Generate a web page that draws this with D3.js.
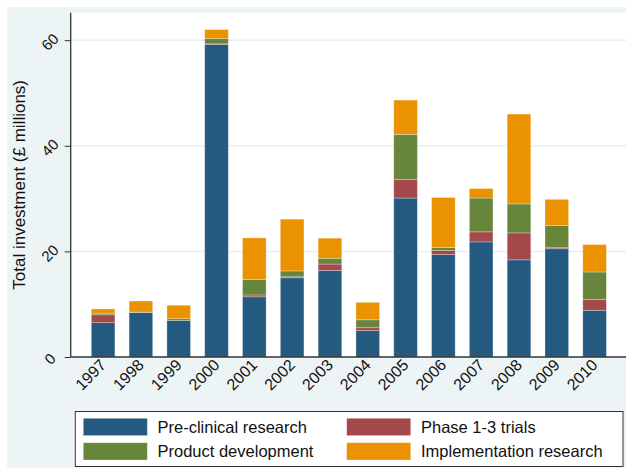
<!DOCTYPE html>
<html>
<head>
<meta charset="utf-8">
<script src="https://cdn.jsdelivr.net/npm/d3@7/dist/d3.min.js"></script>
<style>
  html, body { margin: 0; padding: 0; background: #fff; }
  svg { display: block; font-family: "Liberation Sans", Arial, Helvetica, sans-serif; }
</style>
</head>
<body>
<svg id="chart" width="626" height="468"></svg>
<script>
const years = ["1997","1998","1999","2000","2001","2002","2003","2004","2005","2006","2007","2008","2009","2010"];
const preClinical    = [6.5, 8.4, 6.9, 59.2, 11.4, 15.0, 16.4, 5.0, 30.1, 19.4, 21.8, 18.4, 20.5, 8.85];
const phaseTrials    = [1.5, 0.0, 0.0, 0.1, 0.35, 0.2, 1.2, 0.55, 3.5, 0.8, 1.9, 5.1, 0.2, 2.05];
const productDev     = [0.3, 0.1, 0.35, 1.0, 2.9, 1.1, 1.1, 1.5, 8.55, 0.55, 6.4, 5.5, 4.2, 5.2];
const implementation = [0.8, 2.1, 2.55, 1.7, 7.9, 9.8, 3.8, 3.3, 6.5, 9.45, 1.8, 17.0, 4.95, 5.2];
const seriesNames = ["Pre-clinical research", "Phase 1-3 trials", "Product development", "Implementation research"];
const yTicks = [0, 20, 40, 60];

const colors = ["#245a80", "#a5484b", "#67863b", "#ea9200"];
const keys = ["pre", "phase", "prod", "impl"];
const rows = years.map((y, i) => ({year: y, pre: preClinical[i], phase: phaseTrials[i], prod: productDev[i], impl: implementation[i]}));

const svg = d3.select("#chart");
const bg = "#edf4f6";

// outer background
svg.append("rect").attr("x", 7).attr("y", 7).attr("width", 626 - 7).attr("height", 468 - 7).attr("fill", bg);

const plotL = 70.7, plotR = 627, plotT = 12.7, plotB = 357;
svg.append("rect").attr("x", plotL).attr("y", plotT).attr("width", plotR - plotL).attr("height", plotB - plotT).attr("fill", "#fff");

const x = d3.scaleBand().domain(years).range([plotL, plotR]).paddingInner(0.376).paddingOuter(0.545);
const y = d3.scaleLinear().domain([0, 65.2]).range([plotB, plotT]);

// gridlines
svg.append("g").selectAll("line").data(yTicks.filter(t => t > 0)).join("line")
  .attr("x1", plotL).attr("x2", plotR)
  .attr("y1", d => y(d)).attr("y2", d => y(d))
  .attr("stroke", "#e6f0f2").attr("stroke-width", 1.5);

// bars
const stack = d3.stack().keys(keys)(rows);
svg.append("g").selectAll("g").data(stack).join("g")
  .attr("fill", (d, i) => colors[i])
  .selectAll("rect").data(d => d).join("rect")
  .attr("x", d => x(d.data.year))
  .attr("width", x.bandwidth())
  .attr("y", d => y(d[1]))
  .attr("height", d => Math.max(0, y(d[0]) - y(d[1])))
  .attr("stroke", "rgba(255,255,255,0.35)").attr("stroke-width", 0.8);

// y axis
const yAxis = d3.axisLeft(y).tickValues(yTicks).tickSize(6).tickSizeOuter(0).tickFormat(d3.format("d"));
const gy = svg.append("g").attr("transform", `translate(${plotL},0)`).call(yAxis);
gy.select(".domain").attr("stroke", "#333").attr("stroke-width", 1.3).attr("d", `M0,${plotT}V${plotB}`);
gy.selectAll(".tick line").attr("stroke", "#333").attr("stroke-width", 1);
gy.selectAll(".tick text")
  .attr("font-size", 15).attr("fill", "#111")
  .attr("x", 0).attr("dy", 0)
  .attr("text-anchor", "middle")
  .attr("transform", "translate(-17,5) rotate(-45)");

// x axis
const xAxis = d3.axisBottom(x).tickSize(0).tickSizeOuter(0);
const gx = svg.append("g").attr("transform", `translate(0,${plotB})`).call(xAxis);
gx.select(".domain").attr("stroke", "#333").attr("stroke-width", 1.3).attr("d", `M${plotL},0H${plotR}`);
gx.selectAll(".tick text")
  .attr("font-size", 16).attr("fill", "#111")
  .attr("y", 0).attr("dy", 0)
  .attr("text-anchor", "end")
  .attr("transform", "translate(4,9) rotate(-45)");

// y title
svg.append("text")
  .attr("transform", `translate(25,${(plotT + plotB) / 2}) rotate(-90)`)
  .attr("text-anchor", "middle")
  .attr("font-size", 17).attr("fill", "#111")
  .text("Total investment (£ millions)");

// legend
const lg = svg.append("g");
lg.append("rect").attr("x", 75.3).attr("y", 411.5).attr("width", 623 - 75.3).attr("height", 55)
  .attr("fill", "#fff").attr("stroke", "#333").attr("stroke-width", 1);
const legendPos = [
  {sx: 83.3, tx: 157.5, sy: 418.3},
  {sx: 346.7, tx: 421, sy: 418.3},
  {sx: 83.3, tx: 157.5, sy: 442.7},
  {sx: 346.7, tx: 421, sy: 442.7}
];
seriesNames.forEach((name, si) => {
  const p = legendPos[si];
  lg.append("rect").attr("x", p.sx).attr("y", p.sy).attr("width", 64).attr("height", 17.3)
    .attr("fill", colors[si]).attr("stroke", "rgba(255,255,255,0.35)").attr("stroke-width", 0.8);
  lg.append("text").attr("x", p.tx).attr("y", p.sy + 8.7).attr("dy", "0.36em")
    .attr("font-size", 16.5).attr("fill", "#111").text(name);
});
</script>
</body>
</html>
